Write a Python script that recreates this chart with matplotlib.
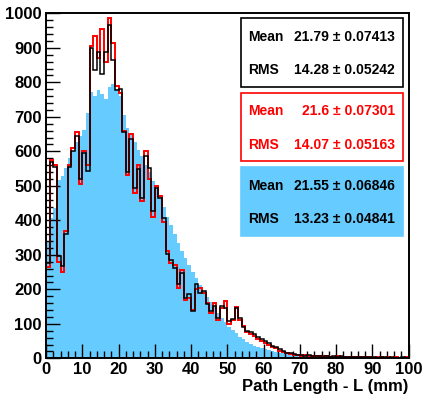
import numpy as np
import matplotlib
matplotlib.use("Agg")
from matplotlib import pyplot as plt
from matplotlib.patches import Rectangle
from matplotlib.ticker import MultipleLocator

plt.rcParams['font.family'] = ['Liberation Sans', 'DejaVu Sans']
plt.rcParams['font.weight'] = 'bold'

# 1 mm bins from 0 to 100
edges = np.arange(0, 101, 1)

black_counts = [
    277, 568, 555, 297, 268, 360, 554, 600, 643, 520,
    594, 542, 900, 835, 888, 825, 888, 965, 864, 778,
    780, 657, 540, 637, 493, 550, 464, 585, 553, 426,
    493, 464, 406, 302, 285, 262, 215, 248, 176, 185,
    138, 215, 190, 196, 158, 138, 153, 118, 153, 146,
    109, 115, 146, 118, 90, 80, 75, 71, 62, 55,
    50, 44, 36, 32, 28, 20, 16, 14, 12, 10,
    10, 8, 9, 7, 8, 6, 7, 6, 5, 6,
    5, 6, 4, 5, 4, 3, 4, 5, 3, 4,
    3, 2, 4, 3, 2, 3, 2, 2, 3, 2,
]

red_counts = [
    265, 575, 560, 280, 250, 370, 560, 610, 655, 505,
    600, 560, 905, 935, 870, 955, 860, 985, 915, 790,
    770, 660, 530, 650, 480, 560, 455, 600, 520, 410,
    500, 470, 395, 310, 275, 270, 205, 255, 170, 175,
    140, 200, 205, 190, 160, 130, 160, 110, 145, 165,
    100, 110, 150, 110, 95, 75, 70, 65, 55, 50,
    45, 40, 32, 30, 22, 18, 14, 12, 10, 9,
    8, 9, 6, 7, 6, 7, 5, 6, 4, 5,
    6, 4, 5, 3, 4, 4, 3, 4, 4, 3,
    2, 3, 3, 2, 3, 2, 3, 2, 2, 3,
]

blue_counts = [
    340, 406, 435, 518, 528, 553, 580, 600, 628, 643,
    663, 712, 772, 760, 778, 765, 752, 787, 795, 780,
    760, 705, 668, 648, 628, 605, 585, 560, 540, 515,
    495, 470, 440, 410, 385, 360, 335, 310, 290, 270,
    250, 232, 212, 195, 178, 162, 148, 132, 118, 104,
    92, 82, 72, 63, 55, 48, 42, 37, 33, 29,
    26, 23, 20, 18, 16, 14, 12, 11, 10, 9,
    8, 7, 7, 6, 5, 5, 4, 4, 3, 3,
    3, 3, 2, 2, 2, 2, 2, 1, 1, 1,
    1, 1, 1, 1, 1, 1, 0, 1, 0, 0,
]

stats_black = ("21.79 \u00b1 0.07413", "14.28 \u00b1 0.05242")
stats_red = ("21.6 \u00b1 0.07301", "14.07 \u00b1 0.05163")
stats_blue = ("21.55 \u00b1 0.06846", "13.23 \u00b1 0.04841")

fill_colour = "#66ccff"

W, H = 423, 394
fig = plt.figure(figsize=(W / 100, H / 100), dpi=100)
ax = fig.add_axes([46 / W, 1 - 358.3 / H, (408.5 - 46) / W, (358.3 - 13.3) / H])

ax.stairs(blue_counts, edges, fill=True, color=fill_colour, lw=0, zorder=1)
ax.stairs(red_counts, edges, color="red", lw=1.4, zorder=2)
ax.stairs(black_counts, edges, color="black", lw=1.1, zorder=3)

ax.set_xlim(0, 100)
ax.set_ylim(0, 1000)
ax.xaxis.set_major_locator(MultipleLocator(10))
ax.xaxis.set_minor_locator(MultipleLocator(2))
ax.yaxis.set_major_locator(MultipleLocator(100))
ax.yaxis.set_minor_locator(MultipleLocator(20))
ax.tick_params(which="both", direction="in", top=False, right=False, width=1)
ax.tick_params(which="major", length=10, labelsize=12, pad=3)
ax.tick_params(which="minor", length=5)
for lab in ax.get_xticklabels() + ax.get_yticklabels():
    lab.set_fontweight("bold")
for sp in ax.spines.values():
    sp.set_linewidth(1.4)

ax.set_xlabel("Path Length - L (mm)", loc="right", fontsize=12,
              fontweight="bold", labelpad=1)


def stat_box(top, bottom, rows, text_colour, edge, face):
    x0, x1 = 241, 403
    rect = Rectangle((x0 / W, 1 - bottom / H), (x1 - x0) / W, (bottom - top) / H,
                     transform=fig.transFigure, facecolor=face,
                     edgecolor=edge, lw=1.2, zorder=5)
    fig.patches.append(rect)
    h = bottom - top
    for frac, name, value in zip((0.27, 0.76), ("Mean", "RMS"), rows):
        y = 1 - (top + frac * h) / H
        fig.text(248 / W, y, name, color=text_colour, fontsize=10,
                 fontweight="bold", va="center", ha="left", zorder=6)
        fig.text(395 / W, y, value, color=text_colour, fontsize=10,
                 fontweight="bold", va="center", ha="right", zorder=6)


stat_box(18, 87, stats_black, "black", "black", "white")
stat_box(93, 161, stats_red, "red", "red", "white")
stat_box(167, 236, stats_blue, "black", fill_colour, fill_colour)

fig.savefig("out.png", dpi=100)
